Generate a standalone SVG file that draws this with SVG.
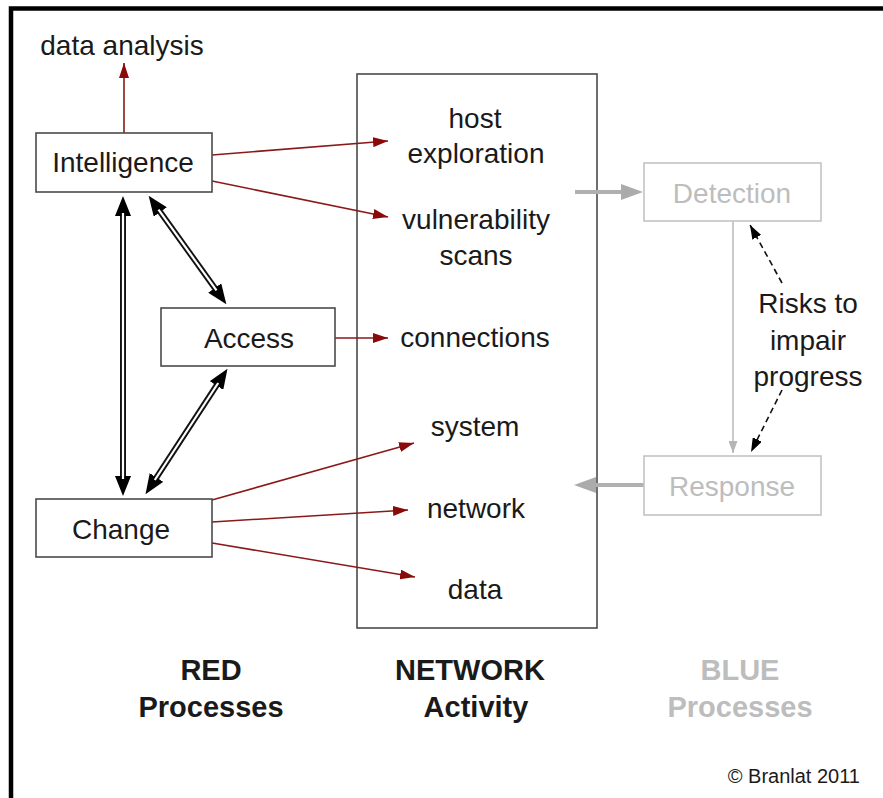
<svg xmlns="http://www.w3.org/2000/svg" width="883" height="798" viewBox="0 0 883 798">
<style>
text{font-family:"Liberation Sans",Arial,sans-serif;font-size:28px;fill:#1a1a1a;text-anchor:middle}
.box{fill:#fff;stroke:#4a4a4a;stroke-width:1.6}
.gbox{fill:#fff;stroke:#c4c4c4;stroke-width:1.6}
.gt{fill:#bdbdbd}
.b{font-weight:bold;font-size:29px}
.red{stroke:#8a1a1a;stroke-width:1.6;fill:none;marker-end:url(#rh)}
.dbl{stroke:#111;stroke-width:6;fill:none;marker-start:url(#dh);marker-end:url(#dh)}
.dblin{stroke:#fff;stroke-width:2.2;fill:none}
.gthick{stroke:#b0b0b0;stroke-width:4;fill:none;marker-end:url(#gh)}
.gthin{stroke:#bdbdbd;stroke-width:1.6;fill:none;marker-end:url(#gsh)}
.dash{stroke:#111;stroke-width:1.6;stroke-dasharray:6 4;fill:none;marker-end:url(#kh)}
</style>
<defs>
<marker id="rh" viewBox="0 0 15 10" refX="15" refY="5" markerWidth="15" markerHeight="10" markerUnits="userSpaceOnUse" orient="auto"><path d="M0,0 L15,5 L0,10 z" fill="#8a0a0a"/></marker>
<marker id="dh" viewBox="0 0 20 16" refX="1" refY="8" markerWidth="20" markerHeight="16" markerUnits="userSpaceOnUse" orient="auto-start-reverse"><path d="M0,0 L20,8 L0,16 z" fill="#000"/></marker>
<marker id="gh" viewBox="0 0 22 16" refX="1" refY="8" markerWidth="22" markerHeight="16" markerUnits="userSpaceOnUse" orient="auto"><path d="M0,0 L22,8 L0,16 z" fill="#ababab"/></marker>
<marker id="gsh" viewBox="0 0 12 9" refX="12" refY="4.5" markerWidth="12" markerHeight="9" markerUnits="userSpaceOnUse" orient="auto"><path d="M0,0 L12,4.5 L0,9 z" fill="#b5b5b5"/></marker>
<marker id="kh" viewBox="0 0 14 10" refX="14" refY="5" markerWidth="14" markerHeight="10" markerUnits="userSpaceOnUse" orient="auto"><path d="M0,0 L14,5 L0,10 z" fill="#000"/></marker>
</defs>
<rect x="0" y="0" width="883" height="798" fill="#fff"/>
<path d="M11,798 V8.5 H883" stroke="#000" stroke-width="4.5" fill="none"/>

<g id="network">
<rect x="357" y="74" width="240" height="554" class="box"/>
<text x="475" y="128">host</text>
<text x="476" y="163">exploration</text>
<text x="476" y="229">vulnerability</text>
<text x="476" y="265">scans</text>
<text x="475" y="347">connections</text>
<text x="475" y="436">system</text>
<text x="476" y="518">network</text>
<text x="475" y="599">data</text>
</g>

<g id="connectors">
<path class="red" d="M124,133 V63"/>
<path class="red" d="M212,155 L388,141"/>
<path class="red" d="M212,181 L388,217"/>
<path class="red" d="M335,338 H388"/>
<path class="red" d="M212,500 L414,443"/>
<path class="red" d="M212,522 L408,510"/>
<path class="red" d="M212,543 L415,577"/>
<path class="dbl" d="M123,215 V477"/>
<path class="dblin" d="M123,213 V479"/>
<path class="dbl" d="M159.7,211.2 L215.3,288.8"/>
<path class="dblin" d="M158.5,209.6 L216.5,290.4"/>
<path class="dbl" d="M217.1,384.7 L155.9,478.3"/>
<path class="dblin" d="M218.2,383 L154.8,480"/>
<path class="gthick" d="M575,192 H622"/>
<path class="gthick" d="M644,485 H595"/>
<path class="gthin" d="M733,221 V453"/>
<path class="dash" d="M782,283 L750,225"/>
<path class="dash" d="M782,390 L751,452"/>
</g>

<g id="data-analysis"><text x="122" y="55">data analysis</text></g>
<g id="intelligence"><rect x="36" y="133" width="176" height="59" class="box"/><text x="123" y="172">Intelligence</text></g>
<g id="access"><rect x="161" y="308" width="174" height="58" class="box"/><text x="249" y="348">Access</text></g>
<g id="change"><rect x="36" y="499" width="176" height="58" class="box"/><text x="121" y="539">Change</text></g>
<g id="detection"><rect x="644" y="163" width="177" height="58" class="gbox"/><text class="gt" x="732" y="203">Detection</text></g>
<g id="response"><rect x="644" y="456" width="177" height="59" class="gbox"/><text class="gt" x="732" y="496">Response</text></g>
<g id="risks"><text x="808" y="313">Risks to</text><text x="808" y="350">impair</text><text x="808" y="386">progress</text></g>

<g id="labels">
<text class="b" x="211" y="680">RED</text>
<text class="b" x="211" y="717">Processes</text>
<text class="b" x="470" y="680">NETWORK</text>
<text class="b" x="476" y="717">Activity</text>
<text class="b gt" x="740" y="680">BLUE</text>
<text class="b gt" x="740" y="717">Processes</text>
<text x="860" y="783" style="font-size:20px;text-anchor:end">© Branlat 2011</text>
</g>
</svg>
